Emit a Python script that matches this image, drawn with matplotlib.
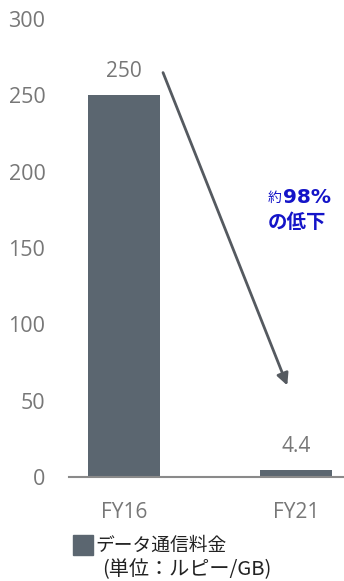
import matplotlib.pyplot as plt
from matplotlib.patches import Rectangle

# データ通信料金 (ルピー/GB)
years = ["FY16", "FY21"]
prices = [250, 4.4]
value_labels = ["250", "4.4"]
yticks = [0, 50, 100, 150, 200, 250, 300]

plt.rcParams['font.family'] = ['Open Sans', 'Noto Sans CJK JP', 'DejaVu Sans']

bar_col = "#5b6670"
txt_col = "#777777"

fig = plt.figure(figsize=(3.44, 5.81), dpi=100)
ax = fig.add_axes([0.2006, 0.179, 0.7994, 0.788])

x = range(len(years))
ax.bar(x, prices, width=0.42, color=bar_col, zorder=2)
ax.set_xlim(-0.32, 1.28)
ax.set_ylim(0, 300)
ax.set_yticks(yticks)
ax.set_xticks(list(x))
ax.set_xticklabels(years)
ax.tick_params(axis='y', length=0, pad=17, labelsize=15.5, labelcolor=txt_col)
ax.tick_params(axis='x', length=0, pad=18, labelsize=15, labelcolor=txt_col)

for s in ["top", "right", "left"]:
    ax.spines[s].set_visible(False)
ax.spines["bottom"].set_color("#8a8a8a")
ax.spines["bottom"].set_linewidth(1.5)

# 値ラベル
for i, (v, lab) in enumerate(zip(prices, value_labels)):
    ax.text(i, v + 9, lab, ha='center', va='bottom', fontsize=15, color=txt_col)

# 低下を示す矢印
ax.annotate("", xy=(0.95, 60), xytext=(0.227, 265),
            arrowprops=dict(arrowstyle="-|>,head_length=0.7,head_width=0.35",
                            color="#555a60", lw=2, shrinkA=0, shrinkB=0))

blue = "#1414c8"
fig.text(0.778, 1 - 198 / 581, "約", fontsize=10, color=blue, ha='left', va='center')
fig.text(0.823, 1 - 197 / 581, "98%", fontsize=14.5, color=blue, fontweight='bold',
         ha='left', va='center', family=['DejaVu Sans'])
fig.text(0.863, 1 - 222 / 581, "の低下", fontsize=14, color=blue, fontweight='bold',
         ha='center', va='center', family=['Noto Sans CJK JP'])

# 凡例
fig.patches.append(Rectangle((73 / 344, 1 - 555 / 581), 20 / 344, 20 / 581,
                             transform=fig.transFigure, color=bar_col))
fig.text(95 / 344, 1 - 545 / 581, "データ通信料金", fontsize=13.5, color="#222222",
         ha='left', va='center', family=['Noto Sans CJK JP'])
fig.text(102 / 344, 1 - 570 / 581, "(単位：ルピー/GB)", fontsize=14.5, color="#222222",
         ha='left', va='center', family=['Noto Sans CJK JP'])

fig.savefig("out.png", dpi=100)
